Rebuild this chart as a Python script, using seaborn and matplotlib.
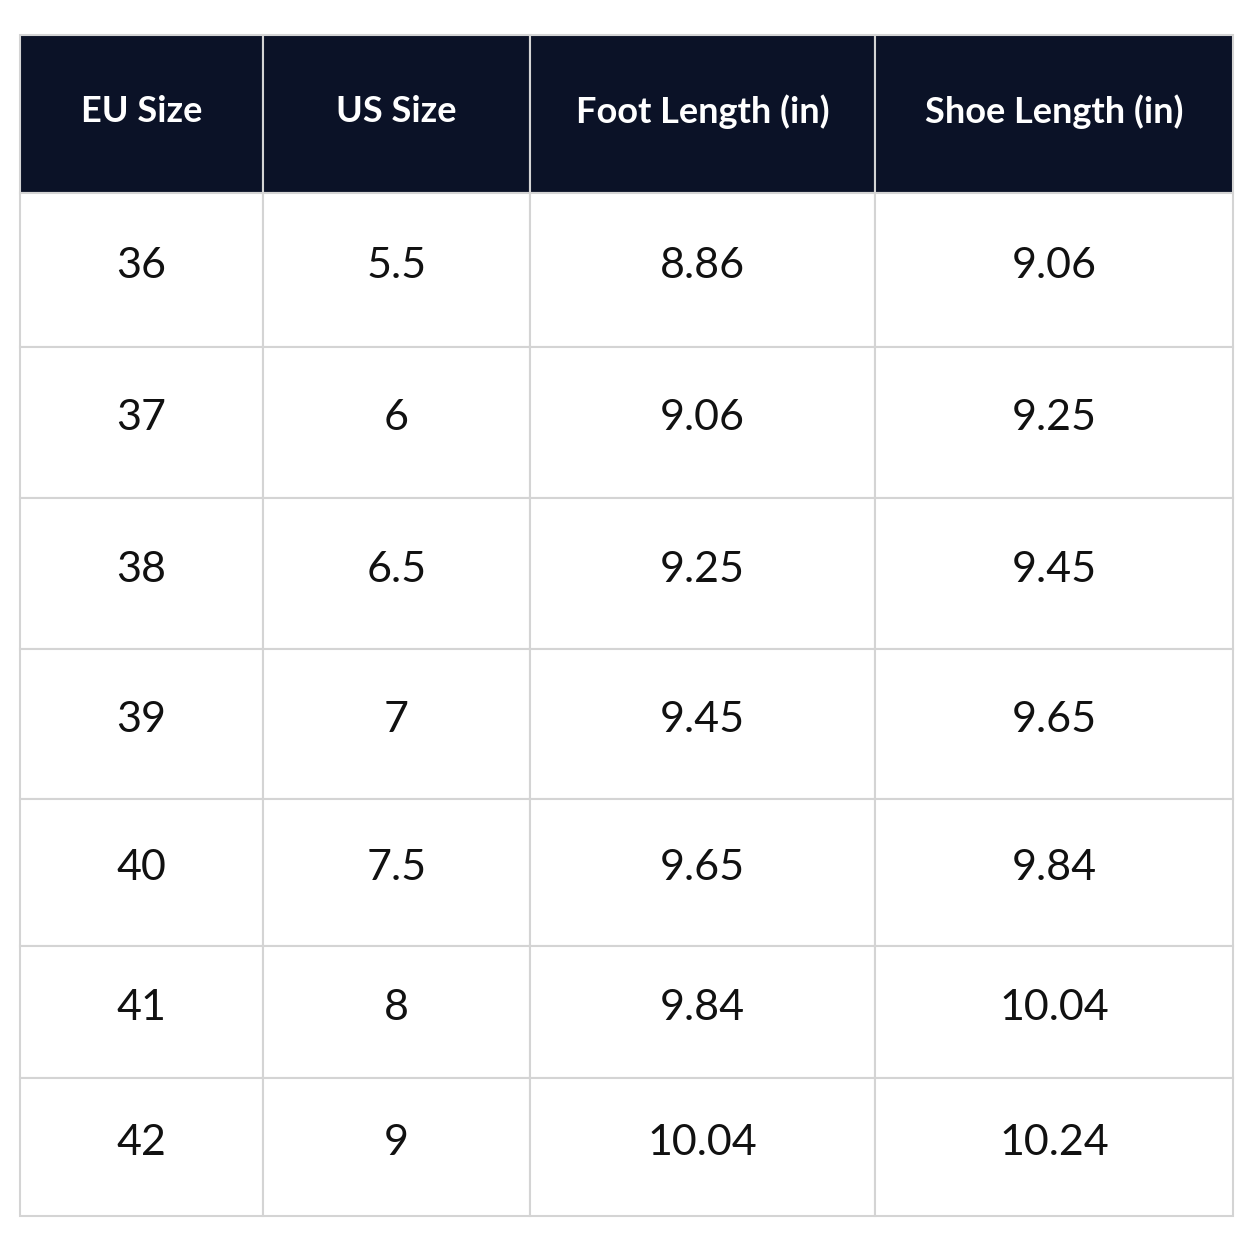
import matplotlib.pyplot as plt
import seaborn as sns
from matplotlib.patches import Rectangle

sns.set_theme(style="white")
plt.rcParams['font.family'] = ['Lato', 'DejaVu Sans']

headers = ['EU Size', 'US Size', 'Foot Length (in)', 'Shoe Length (in)']
eu_size = ['36', '37', '38', '39', '40', '41', '42']
us_size = ['5.5', '6', '6.5', '7', '7.5', '8', '9']
foot_len = ['8.86', '9.06', '9.25', '9.45', '9.65', '9.84', '10.04']
shoe_len = ['9.06', '9.25', '9.45', '9.65', '9.84', '10.04', '10.24']

# table layout in pixels
col_edges = [20, 263, 530, 875, 1233]
row_edges = [35, 193, 347, 498, 649, 799, 946, 1078, 1216]
header_color = '#0b1227'
grid_color = '#d4d4d4'

fig = plt.figure(figsize=(12.54, 12.54), dpi=100)
ax = fig.add_axes([0, 0, 1, 1])
ax.set_xlim(0, 1254)
ax.set_ylim(1254, 0)
ax.axis('off')

columns = [eu_size, us_size, foot_len, shoe_len]
for c in range(len(headers)):
    x0, x1 = col_edges[c], col_edges[c + 1]
    y0, y1 = row_edges[0], row_edges[1]
    ax.add_patch(Rectangle((x0, y0), x1 - x0, y1 - y0, facecolor=header_color,
                           edgecolor=grid_color, lw=1.5))
    ax.text((x0 + x1) / 2, (y0 + y1) / 2 - 2, headers[c], color='white',
            fontsize=26, fontweight='bold', ha='center', va='center')
    for r, val in enumerate(columns[c]):
        y0, y1 = row_edges[r + 1], row_edges[r + 2]
        ax.add_patch(Rectangle((x0, y0), x1 - x0, y1 - y0, facecolor='white',
                               edgecolor=grid_color, lw=1.5))
        ax.text((x0 + x1) / 2, (y0 + y1) / 2 - 4, val, color='#111111',
                fontsize=31, ha='center', va='center')

fig.savefig('out.png', dpi=100, facecolor='white')
